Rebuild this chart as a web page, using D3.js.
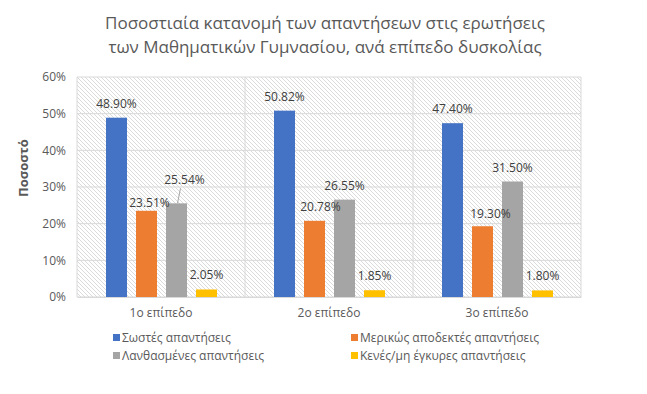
<!DOCTYPE html>
<html>
<head>
<meta charset="utf-8">
<script src="https://cdn.jsdelivr.net/npm/d3@7"></script>
<style>
  body { margin: 0; background: #fff; }
  svg { display: block; font-family: "Open Sans", "Noto Sans", sans-serif; }
</style>
</head>
<body>
<svg id="chart" width="647" height="394"></svg>
<script>
const categories = ['1ο επίπεδο', '2ο επίπεδο', '3ο επίπεδο'];
const seriesNames = [
  'Σωστές απαντήσεις',
  'Μερικώς αποδεκτές απαντήσεις',
  'Λανθασμένες απαντήσεις',
  'Κενές/μη έγκυρες απαντήσεις'
];
const correct = [48.90, 50.82, 47.40];
const partial = [23.51, 20.78, 19.30];
const wrong = [25.54, 26.55, 31.50];
const blank = [2.05, 1.85, 1.80];
const yTicks = [0, 10, 20, 30, 40, 50, 60];
const titleLines = [
  'Ποσοστιαία κατανομή των απαντήσεων στις ερωτήσεις',
  'των Μαθηματικών Γυμνασίου, ανά επίπεδο δυσκολίας'
];

const colors = ['#4472C4', '#ED7D31', '#A5A5A5', '#FFC000'];
const allSeries = [correct, partial, wrong, blank];

// manual nudges of some data labels, as in the original (dx, dy, leader line)
const labelNudge = {
  '0-1': { dx: 3, dy: 6 },
  '0-2': { dx: 8, dy: -9, leader: true },
  '1-1': { dx: 6, dy: 0 },
  '2-1': { dx: 8, dy: 2 }
};

const svg = d3.select('#chart');
const plot = { left: 77, right: 581, top: 77, bottom: 297 };

const x0 = d3.scaleBand().domain(categories).range([plot.left, plot.right]);
const x1 = d3.scaleBand()
  .domain(d3.range(seriesNames.length))
  .range([29, x0.bandwidth() - 28])
  .paddingInner(0.3);
const y = d3.scaleLinear().domain([0, 60]).range([plot.bottom, plot.top]);

// hatch pattern of the plot area
const defs = svg.append('defs');
const pat = defs.append('pattern')
  .attr('id', 'hatch')
  .attr('patternUnits', 'userSpaceOnUse')
  .attr('width', 4)
  .attr('height', 4);
pat.append('rect').attr('width', 4).attr('height', 4).attr('fill', '#fff');
pat.append('path')
  .attr('d', 'M-1,-1 L5,5 M-1,3 L1,5 M3,-1 L5,1')
  .attr('stroke', '#d0d0d0')
  .attr('stroke-width', 0.8);

svg.append('rect')
  .attr('x', plot.left)
  .attr('y', plot.top)
  .attr('width', plot.right - plot.left)
  .attr('height', plot.bottom - plot.top)
  .attr('fill', 'url(#hatch)');

// title
svg.append('g')
  .selectAll('text')
  .data(titleLines)
  .join('text')
  .attr('x', 325)
  .attr('y', (d, i) => 29 + i * 24)
  .attr('text-anchor', 'middle')
  .attr('font-size', 17)
  .attr('fill', '#595959')
  .text((d) => d);

// gridlines
const grid = svg.append('g');
grid.selectAll('line.h')
  .data(yTicks)
  .join('line')
  .attr('class', 'h')
  .attr('x1', plot.left)
  .attr('x2', plot.right)
  .attr('y1', (d) => y(d))
  .attr('y2', (d) => y(d))
  .attr('stroke', '#d9d9d9');

grid.selectAll('line.v')
  .data(categories.concat(['end']))
  .join('line')
  .attr('class', 'v')
  .attr('x1', (d, i) => (i < categories.length ? x0(d) : plot.right))
  .attr('x2', (d, i) => (i < categories.length ? x0(d) : plot.right))
  .attr('y1', plot.top)
  .attr('y2', plot.bottom)
  .attr('stroke', '#d9d9d9');

// y axis
const yAxis = svg.append('g')
  .attr('transform', `translate(${plot.left},0)`)
  .call(d3.axisLeft(y).tickValues(yTicks).tickSize(0).tickPadding(11).tickFormat((d) => d + '%'));
yAxis.select('.domain').remove();
yAxis.selectAll('text')
  .attr('font-size', 12)
  .attr('fill', '#595959')
  .attr('font-family', '"Open Sans", sans-serif');

svg.append('text')
  .attr('transform', 'translate(28,168) rotate(-90)')
  .attr('text-anchor', 'middle')
  .attr('font-size', 13)
  .attr('font-weight', 'bold')
  .attr('fill', '#595959')
  .text('Ποσοστό');

// x axis
const xAxis = svg.append('g')
  .attr('transform', `translate(0,${plot.bottom})`)
  .call(d3.axisBottom(x0).tickSize(0).tickPadding(11));
xAxis.select('.domain').attr('stroke', '#d9d9d9');
xAxis.selectAll('text')
  .attr('font-size', 12)
  .attr('fill', '#595959')
  .attr('font-family', '"Open Sans", sans-serif');

// bars
const barData = [];
categories.forEach((c, ci) => {
  allSeries.forEach((s, si) => {
    barData.push({ cat: c, ci, si, value: s[ci] });
  });
});

svg.append('g')
  .selectAll('rect')
  .data(barData)
  .join('rect')
  .attr('x', (d) => x0(d.cat) + x1(d.si))
  .attr('y', (d) => y(d.value))
  .attr('width', x1.bandwidth())
  .attr('height', (d) => y(0) - y(d.value))
  .attr('fill', (d) => colors[d.si]);

// data labels
const labels = svg.append('g');
barData.forEach((d) => {
  const nudge = labelNudge[`${d.ci}-${d.si}`] || { dx: 0, dy: 0 };
  const cx = x0(d.cat) + x1(d.si) + x1.bandwidth() / 2;
  const top = y(d.value);
  const lx = cx + nudge.dx;
  const ly = top - 10 + nudge.dy;
  if (nudge.leader) {
    labels.append('line')
      .attr('x1', cx + 1)
      .attr('y1', top)
      .attr('x2', lx - 4)
      .attr('y2', ly + 4)
      .attr('stroke', '#a6a6a6');
  }
  labels.append('text')
    .attr('x', lx)
    .attr('y', ly)
    .attr('text-anchor', 'middle')
    .attr('font-size', 12)
    .attr('fill', '#404040')
    .text(d.value.toFixed(2) + '%');
});

// legend
const legendPos = [[113, 338], [351, 338], [113, 356], [351, 356]];
const legend = svg.append('g')
  .selectAll('g')
  .data(seriesNames)
  .join('g')
  .attr('transform', (d, i) => `translate(${legendPos[i][0]},${legendPos[i][1]})`);
legend.append('rect')
  .attr('x', 0)
  .attr('y', -4)
  .attr('width', 7)
  .attr('height', 7)
  .attr('fill', (d, i) => colors[i]);
legend.append('text')
  .attr('x', 9)
  .attr('y', 4)
  .attr('font-size', 12)
  .attr('fill', '#595959')
  .text((d) => d);
</script>
</body>
</html>
